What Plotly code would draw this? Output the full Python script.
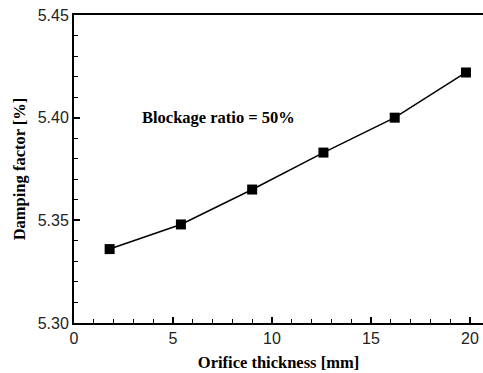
import plotly.graph_objects as go

# Orifice thickness (mm) and resulting damping factor (%)
thickness_mm = [1.8, 5.4, 9.0, 12.6, 16.2, 19.8]
damping_pct = [5.336, 5.348, 5.365, 5.383, 5.400, 5.422]

x_ticks = [0, 5, 10, 15, 20]
y_ticks = [5.30, 5.35, 5.40, 5.45]
y_tick_labels = ["5.30", "5.35", "5.40", "5.45"]

note_text = "<b>Blockage ratio = 50%</b>"

fig = go.Figure()
fig.add_trace(go.Scatter(
    x=thickness_mm, y=damping_pct,
    mode="lines+markers",
    line=dict(color="black", width=1.5),
    marker=dict(symbol="square", size=10, color="black"),
    showlegend=False,
))

fig.add_annotation(
    x=7.3, y=5.4003, xref="x", yref="y",
    text=note_text, showarrow=False,
    font=dict(family="Liberation Serif", size=16.5, color="black"),
)

axis_font = dict(family="Liberation Sans", size=16, color="#222")
title_font = dict(family="Liberation Serif", size=16.5, color="black")

fig.update_xaxes(
    range=[0, 20.66], tickvals=x_ticks, ticks="inside", ticklen=6, tickwidth=1.5,
    tickcolor="black", showline=True, linecolor="black", linewidth=2,
    mirror=True, showgrid=False, zeroline=False, tickfont=axis_font,
    minor=dict(dtick=1, ticks="inside", ticklen=4, tickwidth=1.2, tickcolor="black"),
    title=dict(text="<b>Orifice thickness [mm]</b>", font=title_font, standoff=10),
)
fig.update_yaxes(
    range=[5.30, 5.45], tickvals=y_ticks, ticktext=y_tick_labels,
    ticks="inside", ticklen=6, tickwidth=1.5, tickcolor="black",
    showline=True, linecolor="black", linewidth=2, showgrid=False,
    zeroline=False, tickfont=axis_font,
    minor=dict(dtick=0.01, ticks="inside", ticklen=4, tickwidth=1.2, tickcolor="black"),
    title=dict(text="<b>Damping factor [%]</b>", font=title_font, standoff=8),
)

fig.update_layout(
    width=483, height=373,
    margin=dict(l=74, r=0, t=15, b=50),
    paper_bgcolor="white", plot_bgcolor="white",
)

fig.write_html("out.html")
